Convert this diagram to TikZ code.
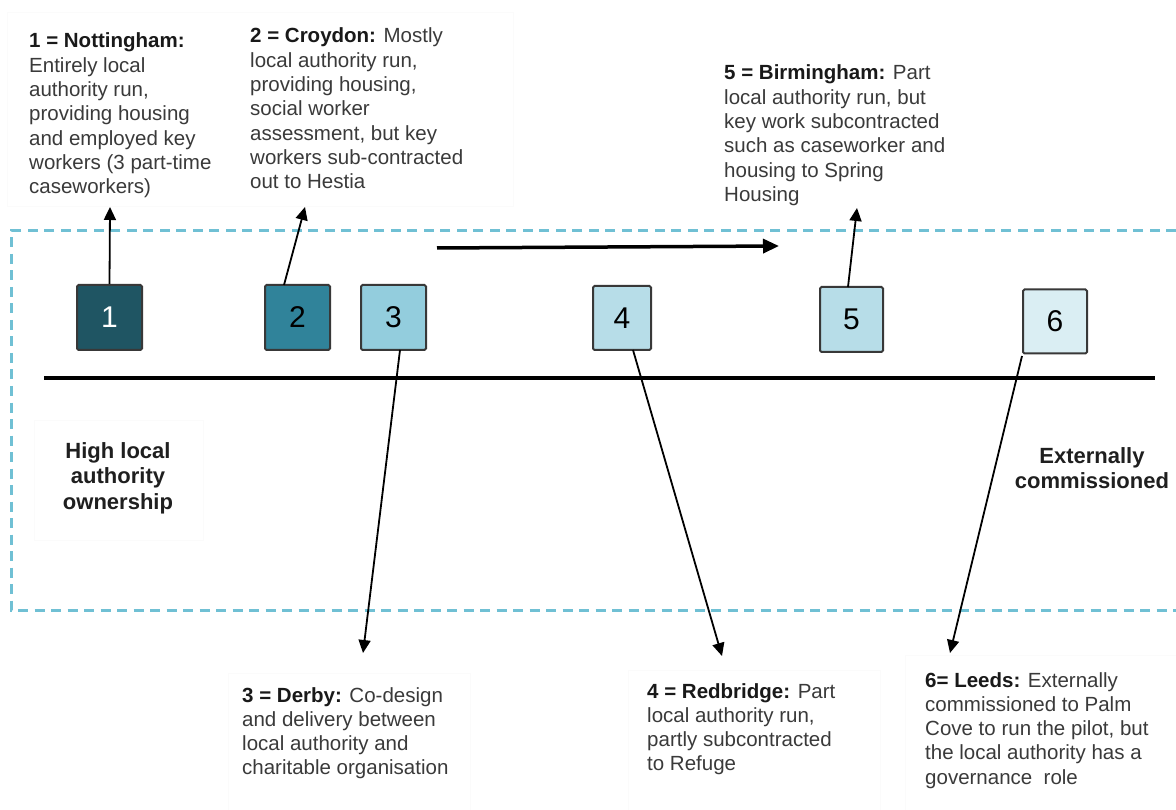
\documentclass[tikz,border=0pt]{standalone}
\usepackage{fontspec}
\setmainfont{Liberation Sans}
\usetikzlibrary{arrows.meta}
\definecolor{c1}{RGB}{31,85,99}
\definecolor{c2}{RGB}{48,131,154}
\definecolor{c3}{RGB}{147,205,221}
\definecolor{c4}{RGB}{183,221,232}
\definecolor{c5}{RGB}{183,221,232}
\definecolor{c6}{RGB}{218,238,243}
\definecolor{dashblue}{RGB}{112,192,212}
\definecolor{txt}{RGB}{58,58,58}
\definecolor{faint}{RGB}{251,251,251}
\begin{document}
\begin{tikzpicture}[x=1pt,y=-1pt,
 numbox/.style={draw=black!78, line width=2pt, rounded corners=1.5pt, minimum width=65pt, minimum height=65pt, inner sep=0pt, font=\fontsize{30}{30}\selectfont},
 desc/.style={anchor=base west, align=left, inner sep=0pt, text=txt, font=\fontsize{20.5}{24.3}\selectfont},
 axlabel/.style={anchor=base, align=center, inner sep=0pt, text=black!88, font=\fontsize{22}{25.5}\selectfont\bfseries},
 conn/.style={line width=1.8pt, -{Triangle[length=13pt,width=12pt]}},
 faintbox/.style={draw=faint, line width=1pt},
]
\useasboundingbox (0,0) rectangle (1176,810);
\fill[white] (0,0) rectangle (1176,810);

% faint text-box outlines
\draw[faintbox] (7,13) rectangle (513,207);
\draw[faintbox] (34,420) rectangle (203,540);
\draw[faintbox] (228,673) rectangle (470,812);
\draw[faintbox] (628,670) rectangle (880,812);
\draw[faintbox] (905,655) rectangle (1180,812);

% dashed frame
\draw[dashblue, line width=3pt, dash pattern=on 10pt off 6.5pt] (1176,231) -- (11,231) -- (11,610) -- (1176,610);

% axis
\coordinate (axL) at (44,378);
\coordinate (axR) at (1155,378);
\draw[line width=4pt] (axL) -- (axR);

% direction arrow
\coordinate (hs) at (437,248);
\coordinate (he) at (779,246);
\draw[line width=3.5pt, -{Triangle[length=16pt,width=14pt]}] (hs) -- (he);

% number boxes
\node[numbox, fill=c1, text=white] (b1) at (109.5,317.5) {1};
\node[numbox, fill=c2] (b2) at (297.5,317.5) {2};
\node[numbox, fill=c3] (b3) at (393.5,317.5) {3};
\node[numbox, fill=c4, minimum width=58pt, minimum height=64pt] (b4) at (622,318) {4};
\node[numbox, fill=c5, minimum width=63pt] (b5) at (851.5,319.5) {5};
\node[numbox, fill=c6, minimum width=64pt, minimum height=64pt] (b6) at (1055,321.5) {6};

% descriptions (anchored at the baseline of the last line)
\node[desc] (t1) at (29,193.8) {\textbf{\color{black!90}1 = Nottingham:}\\Entirely local\\authority run,\\providing housing\\and employed key\\workers (3 part-time\\caseworkers)};
\node[desc] (t2) at (250,188.8) {\textbf{\color{black!90}2 = Croydon:} Mostly\\local authority run,\\providing housing,\\social worker\\assessment, but key\\workers sub-contracted\\out to Hestia};
\node[desc] (t5) at (724,201.5) {\textbf{\color{black!90}5 = Birmingham:} Part\\local authority run, but\\key work subcontracted\\such as caseworker and\\housing to Spring\\Housing};
\node[desc] (t3) at (242,774.9) {\textbf{\color{black!90}3 = Derby:} Co-design\\and delivery between\\local authority and\\charitable organisation};
\node[desc] (t4) at (647,770.9) {\textbf{\color{black!90}4 = Redbridge:} Part\\local authority run,\\partly subcontracted\\to Refuge};
\node[desc] (t6) at (925,784.2) {\textbf{\color{black!90}6= Leeds:} Externally\\commissioned to Palm\\Cove to run the pilot, but\\the local authority has a\\governance\ \ role};

% axis labels
\node[axlabel] (lhigh) at (118,509) {High local\\authority\\ownership};
\node[axlabel] (lext) at (1092,488.5) {Externally\\commissioned};

% connector end points
\coordinate (a1) at (110,207);
\coordinate (a2) at (305,207);
\coordinate (a5) at (857,208);
\coordinate (a3) at (363,653);
\coordinate (a4) at (722,656);
\coordinate (a6) at (950,653);
\coordinate (s2) at (284,285);
\coordinate (s3) at (400,350);
\coordinate (s4) at (633,350);
\coordinate (s5) at (848,287);
\coordinate (s6) at (1022,356);

\draw[conn] (b1.north) -- (a1);
\draw[conn] (s2) -- (a2);
\draw[conn] (s5) -- (a5);
\draw[conn] (s3) -- (a3);
\draw[conn] (s4) -- (a4);
\draw[conn] (s6) -- (a6);
\end{tikzpicture}
\end{document}
